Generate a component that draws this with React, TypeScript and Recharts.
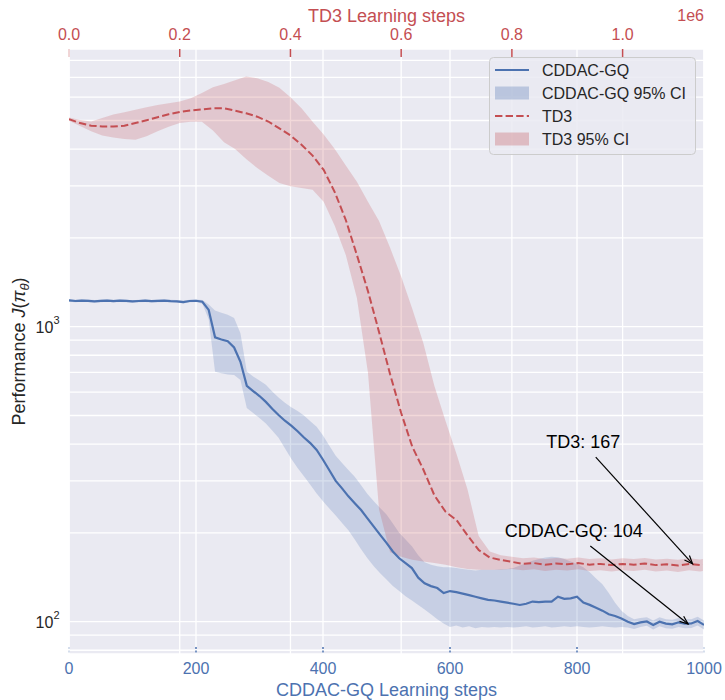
import React from "react";
import {
  ComposedChart,
  Line,
  Area,
  XAxis,
  YAxis,
  CartesianGrid,
  ReferenceLine,
  ReferenceDot,
} from "recharts";

const BLUE = "#4C72B0";
const RED = "#C44E52";
const TEXT = "#262626";
const FONT = "'Liberation Sans', Arial, sans-serif";

// CDDAC-GQ run (bottom axis, learning steps)
const cddacSteps = [
  0, 10, 20, 30, 40, 50, 60, 70, 80, 90, 100, 110, 120, 130, 140, 150, 160, 170, 180, 190, 200,
  210, 220, 230, 240, 250, 260, 270, 280, 290, 300, 310, 320, 330, 340, 350, 360, 370, 380, 390, 400,
  410, 420, 430, 440, 450, 460, 470, 480, 490, 500, 510, 520, 530, 540, 550, 560, 570, 580, 590, 600,
  610, 620, 630, 640, 650, 660, 670, 680, 690, 700, 710, 720, 730, 740, 750, 760, 770, 780, 790, 800,
  810, 820, 830, 840, 850, 860, 870, 880, 890, 900, 910, 920, 930, 940, 950, 960, 970, 980, 990, 1000,
];
const cddacMean = [
  1228, 1222, 1226, 1224, 1219, 1223, 1226, 1221, 1225, 1223, 1218, 1222, 1225, 1220, 1223, 1225, 1221, 1219, 1212, 1222, 1224,
  1215, 1140, 920, 905, 893, 850, 760, 630, 605, 582, 556, 527, 502, 480, 462, 442, 421, 403, 382, 354,
  326, 300, 283, 266, 252, 239, 224, 210, 197, 185, 173, 164, 158, 152, 141, 135, 132, 130, 125, 127,
  126, 124.5, 123, 121.5, 120, 118.5, 118, 117, 116, 115, 113.9, 115, 117, 116.5, 117, 117, 121.6, 119.5, 120, 121.5,
  116, 114, 111.5, 109, 106, 104.5, 102.5, 100, 98.2, 99.5, 100.2, 97.5, 100, 98.5, 98, 99.5, 98.5, 98.6, 100.5, 97.5,
];
const cddacHigh = [
  1240, 1234, 1238, 1236, 1231, 1235, 1238, 1233, 1237, 1235, 1230, 1234, 1237, 1232, 1235, 1237, 1233, 1231, 1226, 1234, 1236,
  1232, 1190, 1135, 1115, 1098, 1070, 950, 705, 678, 657, 636, 603, 575, 552, 533, 518, 500, 478, 458, 428,
  395, 365, 345, 327, 310, 290, 271, 256, 243, 231, 215, 200, 190, 180, 168, 159, 156, 154, 153, 153,
  152, 151, 150, 149, 150, 150, 150, 150.5, 151, 152, 155, 158, 161, 163, 165, 166, 165.5, 163, 160, 157,
  153, 147, 140, 134, 125, 116, 109, 104.5, 102, 103, 103.5, 101, 103.5, 102, 101.5, 103, 102, 102, 104, 101,
];
const cddacLow = [
  1216, 1210, 1214, 1212, 1207, 1211, 1214, 1209, 1213, 1211, 1206, 1210, 1213, 1208, 1211, 1213, 1209, 1207, 1198, 1210, 1212,
  1195, 1060, 704, 695, 688, 686, 660, 530, 510, 490, 470, 445, 420, 387, 357, 332, 311, 291, 272, 256,
  242, 229, 216, 204, 190, 176, 164, 154, 146, 139, 132, 127, 122, 118, 114, 110, 106, 102, 98.5, 96,
  97, 95.5, 96.5, 95, 96, 95.5, 96, 95.5, 96, 95.5, 96, 96.5, 95.5, 96, 96.5, 95.5, 96, 96.5, 96, 96.5,
  96, 95.5, 96, 96.5, 96, 95.5, 96, 95.5, 94.5, 96, 96.8, 94, 96.5, 95, 94.6, 96, 95, 95.2, 97, 94,
];

// TD3 run (top axis, learning steps)
const td3Steps = [
  0, 20000, 40000, 60000, 80000, 100000, 120000, 140000, 160000, 180000, 200000, 220000, 240000, 260000,
  280000, 300000, 320000, 340000, 360000, 380000, 400000, 420000, 440000, 460000, 480000, 500000, 520000,
  540000, 560000, 580000, 600000, 620000, 640000, 660000, 680000, 700000, 720000, 740000, 760000, 780000,
  800000, 820000, 840000, 860000, 880000, 900000, 920000, 940000, 960000, 980000, 1000000, 1020000,
  1040000, 1060000, 1080000, 1100000, 1120000, 1140000, 1145000,
];
const td3Mean = [
  5050, 4900, 4800, 4770, 4770, 4800, 4900, 5010, 5130, 5250, 5340, 5410, 5450, 5500,
  5500, 5400, 5290, 5150, 4960, 4700, 4450, 4140, 3800, 3400, 2860, 2300, 1750,
  1320, 960, 690, 510, 392, 328, 268, 236, 221, 196, 175, 165, 162,
  159.5, 157, 158, 156, 157.5, 156.5, 158, 156, 157, 155.5, 157, 156,
  157.5, 155.5, 156.5, 155, 157, 155.5, 156,
];
const td3High = [
  5120, 5020, 4960, 5100, 5240, 5330, 5440, 5540, 5640, 5720, 5800, 5950, 6200, 6480,
  6650, 6850, 7050, 6950, 6750, 6450, 6000, 5500, 4950, 4480, 4000, 3520, 3100,
  2650, 2280, 1850, 1480, 1150, 880, 630, 480, 370, 280, 195, 173, 168,
  166, 164, 165, 163, 164.5, 163.5, 165, 163, 164, 162.5, 164, 163,
  164.5, 162.5, 163.5, 162, 164, 162.5, 163,
];
const td3Low = [
  4990, 4790, 4600, 4450, 4380, 4330, 4300, 4420, 4600, 4760, 4900, 4950, 4950, 4620,
  4220, 4000, 3700, 3450, 3250, 3070, 2990, 2950, 2910, 2650, 2200, 1750, 1250,
  700, 240, 172, 166, 162, 160, 158, 156, 153, 151, 150, 150, 150,
  151, 149.5, 150.5, 148.5, 150, 149, 150.5, 148.5, 149.5, 148, 149.5, 148.5,
  150, 148, 149, 147.5, 149.5, 148, 148.5,
];

const bottomTicks = [0, 200, 400, 600, 800, 1000];
const topTicks = [0, 200000, 400000, 600000, 800000, 1000000];
const yTicks = [80, 90, 100, 200, 300, 400, 500, 600, 700, 800, 900, 1000, 2000, 3000, 4000, 5000, 6000, 7000, 8000];
const yLabelled = [100, 1000];

// annotations: text position, arrow start, arrow target (data coords, bottom axis)
const td3Note = { text: "TD3: 167", tx: 810, ty: 387, ax: 829.5, ay: 361, px: 982, py: 157 };
const cddacNote = { text: "CDDAC-GQ: 104", tx: 795, ty: 193, ax: 821, ay: 180.5, px: 975, py: 98.2 };

const cddacData = cddacSteps.map((step, i) => ({
  step,
  mean: cddacMean[i],
  band: [cddacLow[i], cddacHigh[i]],
}));
const td3Data = td3Steps.map((t, i) => ({
  t,
  mean: td3Mean[i],
  band: [td3Low[i], td3High[i]],
}));

const BottomTick = (props: any) => {
  const { x, y, payload } = props;
  const edge = payload.value === 0 || payload.value === 1000;
  return (
    <g>
      <line x1={x} x2={x} y1={y - 7} y2={y} stroke={BLUE} strokeWidth={1.5} strokeDasharray="2 1.5" opacity={edge ? 0.3 : 1} />
      <text x={x} y={y + 19.5} textAnchor="middle" fill={BLUE} fontSize={16} fontFamily={FONT}>
        {payload.value}
      </text>
    </g>
  );
};

const TopTick = (props: any) => {
  const { x, y, payload } = props;
  return (
    <g>
      <line x1={x} x2={x} y1={y} y2={y + 8} stroke={RED} strokeWidth={1.5} opacity={payload.value === 0 ? 0.3 : 1} />
      <text x={x} y={y - 9} textAnchor="middle" fill={RED} fontSize={16} fontFamily={FONT}>
        {(payload.value / 1e6).toFixed(1)}
      </text>
    </g>
  );
};

const LeftTick = (props: any) => {
  const { x, y, payload } = props;
  if (!yLabelled.includes(payload.value)) return <g />;
  const exp = Math.round(Math.log10(payload.value));
  return (
    <text x={x - 9.5} y={y + 6.6} textAnchor="end" fill={TEXT} fontSize={16} fontFamily={FONT}>
      10
      <tspan fontSize={11} dy={-9}>
        {exp}
      </tspan>
    </text>
  );
};

const Arrow = (props: any) => {
  const { x1, y1, x2, y2 } = props;
  const ang = Math.atan2(y2 - y1, x2 - x1);
  const len = 9;
  const spread = 0.38;
  const hx1 = x2 - len * Math.cos(ang - spread);
  const hy1 = y2 - len * Math.sin(ang - spread);
  const hx2 = x2 - len * Math.cos(ang + spread);
  const hy2 = y2 - len * Math.sin(ang + spread);
  return (
    <g>
      <line x1={x1} y1={y1} x2={x2} y2={y2} stroke="#000" strokeWidth={1.2} />
      <polyline points={`${hx1},${hy1} ${x2},${y2} ${hx2},${hy2}`} fill="none" stroke="#000" strokeWidth={1.2} />
    </g>
  );
};

const noteText = (text: string) => (p: any) => (
  <text x={p.cx} y={p.cy} textAnchor="middle" fill="#000" fontSize={18} fontFamily={FONT}>
    {text}
  </text>
);

const legendRows = [
  { label: "CDDAC-GQ", kind: "line", color: BLUE },
  { label: "CDDAC-GQ 95% CI", kind: "patch", color: BLUE },
  { label: "TD3", kind: "dash", color: RED },
  { label: "TD3 95% CI", kind: "patch", color: RED },
];

const ChartLegend = () => (
  <div style={{ position: "absolute", left: 489, top: 57, width: 208, height: 98 }}>
    <svg width={208} height={98}>
      <rect x={0.5} y={0.5} width={206} height={97} rx={4} fill="#EAEAF2" fillOpacity={0.85} stroke="#CCCCCC" />
      {legendRows.map((r, i) => {
        const cy = 13 + i * 23;
        return (
          <g key={r.label}>
            {r.kind === "patch" ? (
              <rect x={6} y={cy - 6.5} width={34} height={13} fill={r.color} fillOpacity={0.3} />
            ) : (
              <line
                x1={6}
                x2={40}
                y1={cy}
                y2={cy}
                stroke={r.color}
                strokeWidth={2}
                strokeDasharray={r.kind === "dash" ? "7.4 3.2" : undefined}
              />
            )}
            <text x={53} y={cy + 5.8} fill={TEXT} fontSize={16} fontFamily={FONT}>
              {r.label}
            </text>
          </g>
        );
      })}
    </svg>
  </div>
);

export default function App() {
  return (
    <div style={{ position: "absolute", left: 0, top: 0, width: 725, height: 700, background: "#fff" }}>
      <ComposedChart width={725} height={700} margin={{ top: 9, right: 21, bottom: 6, left: 9 }}>
        <CartesianGrid xAxisId="bottom" fill="#EAEAF2" stroke="#fff" strokeWidth={1.3} />
        <CartesianGrid xAxisId="top" horizontal={false} stroke="#fff" strokeWidth={1.3} />
        <XAxis
          xAxisId="bottom"
          type="number"
          dataKey="step"
          domain={[0, 1000]}
          ticks={bottomTicks}
          interval={0}
          allowDataOverflow
          axisLine={false}
          tickLine={false}
          tickSize={0}
          tickMargin={0}
          height={40}
          tick={(p: any) => <BottomTick {...p} />}
        />
        <XAxis
          xAxisId="top"
          orientation="top"
          type="number"
          dataKey="t"
          domain={[0, 1147000]}
          ticks={topTicks}
          interval={0}
          allowDataOverflow
          axisLine={false}
          tickLine={false}
          tickSize={0}
          tickMargin={0}
          height={40}
          tick={(p: any) => <TopTick {...p} />}
        />
        <YAxis
          type="number"
          scale="log"
          domain={[77.7, 8736]}
          ticks={yTicks}
          interval={0}
          allowDataOverflow
          axisLine={false}
          tickLine={false}
          tickSize={0}
          tickMargin={0}
          width={60}
          tick={(p: any) => <LeftTick {...p} />}
        />

        <Area
          xAxisId="bottom"
          data={cddacData}
          dataKey="band"
          type="linear"
          stroke="none"
          fill={BLUE}
          fillOpacity={0.22}
          activeDot={false}
          isAnimationActive={false}
        />
        <Line
          xAxisId="bottom"
          data={cddacData}
          dataKey="mean"
          type="linear"
          stroke={BLUE}
          strokeWidth={2.2}
          dot={false}
          activeDot={false}
          isAnimationActive={false}
        />
        <Area
          xAxisId="top"
          data={td3Data}
          dataKey="band"
          type="linear"
          stroke="none"
          fill={RED}
          fillOpacity={0.22}
          activeDot={false}
          isAnimationActive={false}
        />
        <Line
          xAxisId="top"
          data={td3Data}
          dataKey="mean"
          type="linear"
          stroke={RED}
          strokeWidth={2}
          strokeDasharray="7.4 3.2"
          dot={false}
          activeDot={false}
          isAnimationActive={false}
        />

        <ReferenceLine
          xAxisId="bottom"
          ifOverflow="visible"
          segment={[{ x: td3Note.ax, y: td3Note.ay }, { x: td3Note.px, y: td3Note.py }]}
          shape={Arrow}
        />
        <ReferenceLine
          xAxisId="bottom"
          ifOverflow="visible"
          segment={[{ x: cddacNote.ax, y: cddacNote.ay }, { x: cddacNote.px, y: cddacNote.py }]}
          shape={Arrow}
        />
        <ReferenceDot xAxisId="bottom" x={td3Note.tx} y={td3Note.ty} r={0} ifOverflow="visible" shape={noteText(td3Note.text)} />
        <ReferenceDot xAxisId="bottom" x={cddacNote.tx} y={cddacNote.ty} r={0} ifOverflow="visible" shape={noteText(cddacNote.text)} />

        <text x={386.5} y={21.7} textAnchor="middle" fill={RED} fontSize={18} fontFamily={FONT}>
          TD3 Learning steps
        </text>
        <text x={704} y={20.5} textAnchor="end" fill={RED} fontSize={16} fontFamily={FONT}>
          1e6
        </text>
        <text x={386.5} y={696} textAnchor="middle" fill={BLUE} fontSize={18} fontFamily={FONT}>
          CDDAC-GQ Learning steps
        </text>
        <text
          x={25}
          y={351.5}
          transform="rotate(-90, 25, 351.5)"
          textAnchor="middle"
          fill={TEXT}
          fontSize={18}
          fontFamily={FONT}
        >
          Performance <tspan fontStyle="italic">J</tspan>(<tspan fontStyle="italic">π</tspan>
          <tspan fontStyle="italic" fontSize={13} dy={4}>θ</tspan>
          <tspan dy={-4}>)</tspan>
        </text>
      </ComposedChart>
      <ChartLegend />
    </div>
  );
}
